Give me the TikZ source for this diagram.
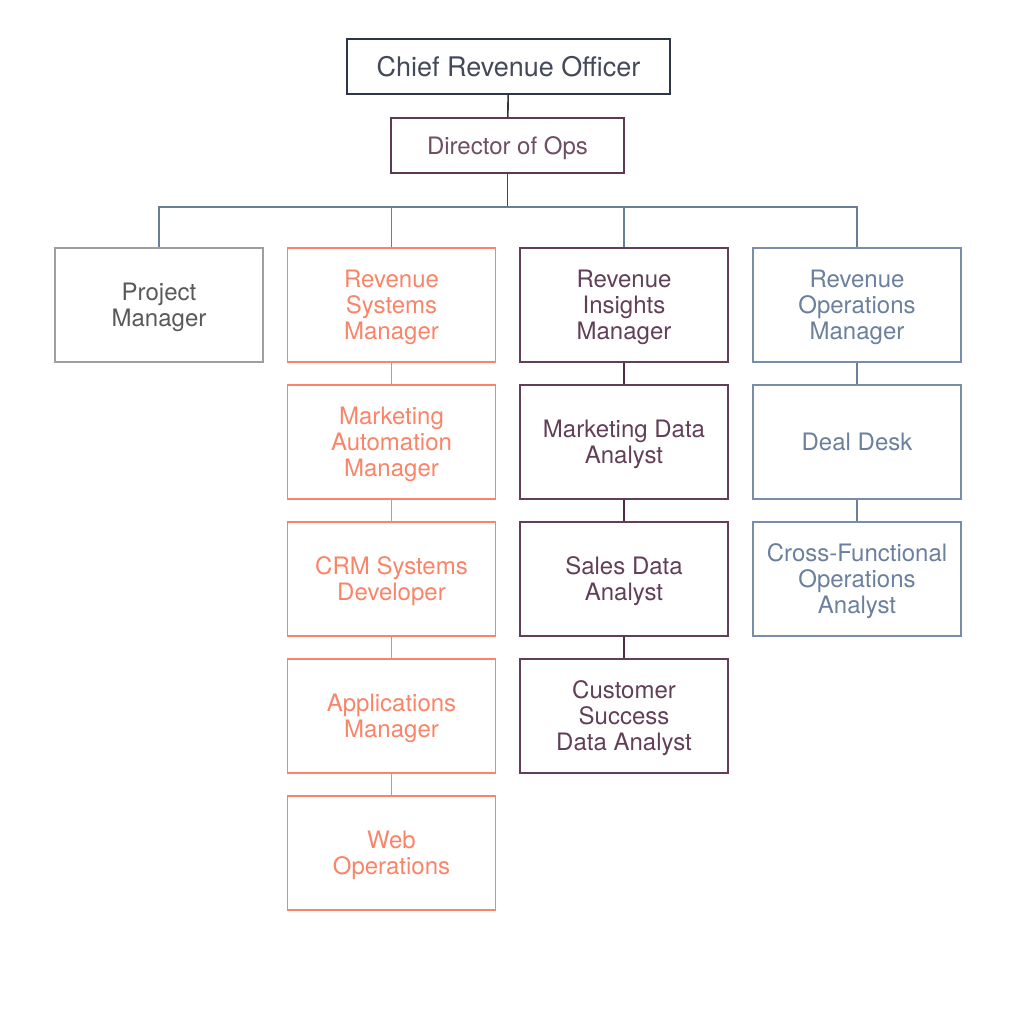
\documentclass[tikz,border=0pt]{standalone}
\usepackage{fontspec}
\setmainfont{TeX Gyre Heros}
\usetikzlibrary{positioning}
\definecolor{navy}{HTML}{2F3548}
\definecolor{plum}{HTML}{5E3A52}
\definecolor{slate}{HTML}{6A7E9A}
\definecolor{coral}{HTML}{FA8468}
\definecolor{grape}{HTML}{4F2A45}
\definecolor{steel}{HTML}{6B809E}
\tikzstyle{role} = [
    draw,
    line width=0.6pt,
    rectangle,
    align=center,
    minimum width=104pt,
    minimum height=57pt,
    inner sep=2pt,
    text depth=-1pt,
    font=\fontsize{12}{13}\selectfont
]
\tikzstyle{top} = [role, minimum width=161.5pt, minimum height=27.5pt, draw=navy, text=navy!90, font=\fontsize{13.5}{15}\selectfont]
\tikzstyle{director} = [role, minimum width=116.5pt, minimum height=27.5pt, draw=plum, text=plum!90]
\tikzstyle{plain} = [role, draw=gray!75, text=black!65]
\tikzstyle{systems} = [role, draw=coral, text=coral]
\tikzstyle{insights} = [role, draw=grape!90, text=grape!90]
\tikzstyle{ops} = [role, draw=steel!90, text=steel]
\tikzstyle{link} = [line width=0.8pt]

\begin{document}
\begin{tikzpicture}[x=0.5pt, y=-0.5pt]
    \useasboundingbox (0, 0) rectangle (1018, 1018);

    % Top.
    \node (cro) [top] at (508.5, 66.5) {Chief Revenue Officer};
    \node (director) [director] at (507.5, 145.5) {Director of Ops};
    \coordinate (bus) at (507.5, 207);

    % Row of managers.
    \node (project manager) [plain] at (159, 305) {Project\\Manager};
    \node (systems manager) [systems] at (391.5, 305) {Revenue\\Systems\\Manager};
    \node (insights manager) [insights] at (624, 305) {Revenue\\Insights\\Manager};
    \node (ops manager) [ops] at (857, 305) {Revenue\\Operations\\Manager};

    % Systems column.
    \node (marketing automation) [systems, below=10.9pt of systems manager] {Marketing\\Automation\\Manager};
    \node (crm developer) [systems, below=10.9pt of marketing automation] {CRM Systems\\Developer};
    \node (applications) [systems, below=10.9pt of crm developer] {Applications\\Manager};
    \node (web ops) [systems, below=10.9pt of applications] {Web\\Operations};

    % Insights column.
    \node (marketing data) [insights, below=10.9pt of insights manager] {Marketing Data\\Analyst};
    \node (sales data) [insights, below=10.9pt of marketing data] {Sales Data\\Analyst};
    \node (success data) [insights, below=10.9pt of sales data] {Customer\\Success\\Data Analyst};

    % Ops column.
    \node (deal desk) [ops, below=10.9pt of ops manager] {Deal Desk};
    \node (cross functional) [ops, below=10.9pt of deal desk] {Cross-Functional\\Operations\\Analyst};

    % Paths.
    \draw [link, draw=black!80] (cro) -- (director);
    \draw [link, draw=plum] (director) -- (bus);
    \draw [link, draw=slate, line width=1pt] (project manager.north) |- (ops manager.north |- bus) -- (ops manager.north);
    \draw [link, draw=slate] (systems manager.north) -- (systems manager.north |- bus);
    \draw [link, draw=slate] (insights manager.north) -- (insights manager.north |- bus);

    \draw [link, draw=coral] (systems manager) -- (marketing automation);
    \draw [link, draw=coral] (marketing automation) -- (crm developer);
    \draw [link, draw=coral] (crm developer) -- (applications);
    \draw [link, draw=coral] (applications) -- (web ops);

    \draw [link, draw=grape] (insights manager) -- (marketing data);
    \draw [link, draw=grape] (marketing data) -- (sales data);
    \draw [link, draw=grape] (sales data) -- (success data);

    \draw [link, draw=steel] (ops manager) -- (deal desk);
    \draw [link, draw=steel] (deal desk) -- (cross functional);
\end{tikzpicture}
\end{document}
